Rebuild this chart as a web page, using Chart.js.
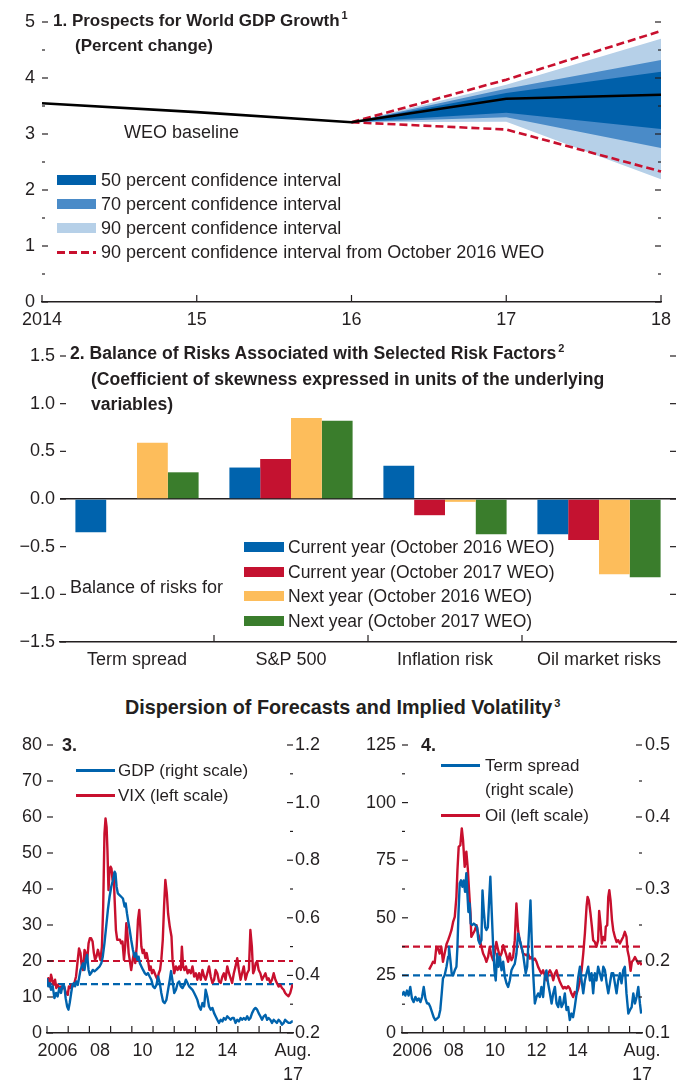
<!DOCTYPE html>
<html>
<head>
<meta charset="utf-8">
<title>Prospects for World GDP Growth and Balance of Risks</title>
<script src="https://cdn.jsdelivr.net/npm/chart.js@4.4.1/dist/chart.umd.min.js"></script>
<style>
  html, body { margin:0; padding:0; background:#fff; }
  body { position:relative; width:686px; height:1085px; overflow:hidden;
         font-family:"Liberation Sans", Arial, sans-serif; color:#231f20; }
  canvas { position:absolute; }
  .t { position:absolute; white-space:nowrap; line-height:1; transform:translateY(-50%); }
  .b { font-weight:bold; }
  .sup { font-size:11px; position:relative; top:-7px; margin-left:2px; font-weight:bold; }
  .sw { position:absolute; }
</style>
</head>
<body>
<canvas id="c1" width="686" height="340" style="left:0;top:0"></canvas>
<canvas id="c2" width="686" height="340" style="left:0;top:340px"></canvas>
<canvas id="c3" width="343" height="365" style="left:0;top:720px"></canvas>
<canvas id="c4" width="343" height="365" style="left:343px;top:720px"></canvas>

<!-- Panel 1 texts -->
<div class="t b" style="left:53px;top:20px;font-size:17px">1. Prospects for World GDP Growth<span class="sup">1</span></div>
<div class="t b" style="left:75px;top:45px;font-size:17px">(Percent change)</div>
<div class="t" style="left:124px;top:132px;font-size:18px">WEO baseline</div>
<div class="sw" style="left:57px;top:175px;width:39px;height:10px;background:#0060aa"></div>
<div class="sw" style="left:57px;top:199px;width:39px;height:10px;background:#4a8bc8"></div>
<div class="sw" style="left:57px;top:223px;width:39px;height:10px;background:#b6d0e8"></div>
<div class="sw" style="left:57px;top:251px;width:39px;height:3px;background:repeating-linear-gradient(90deg,#c8102e 0 8px,transparent 8px 12px)"></div>
<div class="t" style="left:101px;top:180px;font-size:18px">50 percent confidence interval</div>
<div class="t" style="left:101px;top:204px;font-size:18px">70 percent confidence interval</div>
<div class="t" style="left:101px;top:228px;font-size:18px">90 percent confidence interval</div>
<div class="t" style="left:101px;top:252px;font-size:18px">90 percent confidence interval from October 2016 WEO</div>

<!-- Panel 2 texts -->
<div class="t b" style="left:70px;top:354px;font-size:17.6px">2. Balance of Risks Associated with Selected Risk Factors<span class="sup">2</span></div>
<div class="t b" style="left:91px;top:380px;font-size:17.6px">(Coefficient of skewness expressed in units of the underlying</div>
<div class="t b" style="left:91px;top:405px;font-size:17.6px">variables)</div>
<div class="sw" style="left:244px;top:542px;width:40px;height:10px;background:#0063ad"></div>
<div class="sw" style="left:244px;top:567px;width:40px;height:10px;background:#c41230"></div>
<div class="sw" style="left:244px;top:591px;width:40px;height:10px;background:#fdbd5b"></div>
<div class="sw" style="left:244px;top:616px;width:40px;height:10px;background:#3a7d2c"></div>
<div class="t" style="left:288px;top:548px;font-size:17.5px">Current year (October 2016 WEO)</div>
<div class="t" style="left:288px;top:573px;font-size:17.5px">Current year (October 2017 WEO)</div>
<div class="t" style="left:288px;top:597px;font-size:17.5px">Next year (October 2016 WEO)</div>
<div class="t" style="left:288px;top:622px;font-size:17.5px">Next year (October 2017 WEO)</div>
<div class="t" style="left:70px;top:587px;font-size:18px">Balance of risks for</div>

<!-- Middle title -->
<div class="t b" style="left:125px;top:708px;font-size:19.8px">Dispersion of Forecasts and Implied Volatility<span class="sup">3</span></div>

<!-- Panel 3 texts -->
<div class="t b" style="left:62px;top:745px;font-size:18px">3.</div>
<div class="sw" style="left:76px;top:769px;width:39px;height:2.5px;background:#0063ad"></div>
<div class="sw" style="left:76px;top:794px;width:39px;height:2.5px;background:#c8102e"></div>
<div class="t" style="left:118px;top:770px;font-size:17px">GDP (right scale)</div>
<div class="t" style="left:118px;top:795px;font-size:17px">VIX (left scale)</div>

<!-- Panel 4 texts -->
<div class="t b" style="left:421px;top:745px;font-size:18px">4.</div>
<div class="sw" style="left:441px;top:764px;width:39px;height:2.5px;background:#0063ad"></div>
<div class="sw" style="left:441px;top:814px;width:39px;height:2.5px;background:#c8102e"></div>
<div class="t" style="left:485px;top:765px;font-size:17px">Term spread</div>
<div class="t" style="left:485px;top:789px;font-size:17px">(right scale)</div>
<div class="t" style="left:485px;top:815px;font-size:17px">Oil (left scale)</div>

<script>
// ---------------- DATA ----------------
// Panel 1: Prospects for World GDP Growth (percent change)
const p1Years = ['2014', '15', '16', '17', '18'];
const weoBaseline  = [3.55, 3.39, 3.21, 3.63, 3.70];
const ci50Upper    = [null, null, 3.21, 3.73, 4.11];
const ci50Lower    = [null, null, 3.21, 3.38, 3.09];
const ci70Upper    = [null, null, 3.21, 3.81, 4.32];
const ci70Lower    = [null, null, 3.21, 3.30, 2.75];
const ci90Upper    = [null, null, 3.21, 3.88, 4.70];
const ci90Lower    = [null, null, 3.21, 3.22, 2.19];
const oct2016Upper = [null, null, 3.21, 3.97, 4.84];
const oct2016Lower = [null, null, 3.21, 3.08, 2.33];

// Panel 2: Balance of risks (coefficient of skewness)
const riskFactors = ['Term spread', 'S&P 500', 'Inflation risk', 'Oil market risks'];
const currentYear2016 = [-0.35, 0.33, 0.35, -0.37];
const currentYear2017 = [null, 0.42, -0.17, -0.43];
const nextYear2016    = [0.59, 0.85, -0.03, -0.79];
const nextYear2017    = [0.28, 0.82, -0.37, -0.82];

// Panels 3 and 4: shared time axis
const yearTicks = [2006, 2007, 2008, 2009, 2010, 2011, 2012, 2013, 2014, 2015, 2016, 2017];
const timeLabels = ['2006', '08', '10', '12', '14', ['Aug.', '17']];
const timeLabelPos = [2006.5, 2008.5, 2010.5, 2012.5, 2014.5, 2017.6];
const timeStart = 2006, timeEnd = 2017.6;

// Panel 3: VIX (left scale)
const vixYears = [2006.00,2006.06,2006.13,2006.19,2006.25,2006.32,2006.38,2006.44,2006.50,2006.58,
  2006.66,2006.74,2006.82,2006.90,2006.98,2007.03,2007.09,2007.14,2007.21,2007.29,
  2007.37,2007.45,2007.51,2007.58,2007.64,2007.70,2007.77,2007.83,2007.89,2007.96,
  2008.02,2008.08,2008.15,2008.21,2008.27,2008.33,2008.40,2008.46,2008.52,2008.59,
  2008.65,2008.71,2008.76,2008.81,2008.85,2008.90,2008.95,2009.00,2009.04,2009.09,
  2009.14,2009.19,2009.25,2009.31,2009.38,2009.44,2009.50,2009.56,2009.63,2009.69,
  2009.74,2009.79,2009.85,2009.91,2009.97,2010.04,2010.10,2010.16,2010.23,2010.29,
  2010.35,2010.40,2010.45,2010.51,2010.57,2010.64,2010.70,2010.76,2010.83,2010.89,
  2010.95,2011.02,2011.08,2011.14,2011.21,2011.27,2011.33,2011.39,2011.46,2011.52,
  2011.58,2011.65,2011.71,2011.79,2011.87,
  2011.92,2012.00,2012.08,2012.16,2012.23,2012.31,2012.36,2012.42,2012.48,2012.55,
  2012.63,2012.70,2012.78,2012.86,2012.94,2013.02,2013.09,2013.17,2013.25,2013.33,
  2013.41,2013.48,2013.56,2013.64,2013.72,2013.80,2013.88,2013.95,2014.03,2014.11,
  2014.19,2014.27,2014.34,2014.42,2014.50,2014.58,2014.66,2014.73,2014.81,2014.89,
  2014.97,2015.05,2015.13,2015.20,2015.28,2015.36,2015.44,2015.52,2015.59,2015.66,
  2015.72,2015.78,2015.84,2015.91,2015.98,2016.06,2016.14,2016.22,2016.30,2016.38,
  2016.45,2016.53,2016.61,2016.69,2016.77,2016.84,2016.92,2017.00,2017.08,2017.16,
  2017.23,2017.31,2017.39,2017.47,2017.55,2017.59];
const vixValues = [13.9,15.2,12.9,16.2,14.8,13.4,14.8,12.5,13.4,12.5,
  12.9,12.5,12.5,11.1,10.6,12.9,12.5,13.4,12.9,13.9,
  15.7,20.3,23.5,22.2,18.5,17.5,23.1,22.2,19.9,24.9,
  26.3,26.3,25.4,22.2,20.3,21.2,23.1,21.7,20.3,24.0,
  35.1,55.4,59.6,57.2,50.8,39.7,45.2,46.2,45.7,42.5,
  44.3,36.9,28.6,25.9,25.9,25.9,24.9,25.4,20.3,24.5,
  30.5,27.7,22.2,19.9,17.5,20.3,22.2,19.4,24.0,31.4,
  34.2,29.5,24.0,22.2,23.1,20.8,22.2,20.3,17.5,18.5,
  16.6,17.5,16.6,15.7,14.8,16.6,17.5,20.3,25.9,35.1,
  42.5,38.8,33.2,29.5,26.8,
  20.3,16.6,18.5,17.5,18.5,17.5,24.0,18.5,17.5,18.5,
  16.6,17.5,16.6,18.5,15.7,16.6,14.8,16.6,14.8,17.5,
  15.7,14.8,16.6,18.5,15.7,13.9,14.8,17.5,16.6,14.3,
  13.9,15.7,16.6,14.8,18.5,16.6,15.2,13.9,16.6,18.5,
  20.8,17.5,14.8,16.6,18.5,14.8,16.6,17.5,28.6,24.0,
  16.6,17.5,19.4,19.9,17.5,16.6,14.8,15.7,16.6,14.8,
  15.2,13.9,14.8,16.6,14.8,13.9,12.9,13.4,12.5,12.0,
  11.1,10.6,10.2,11.1,12.9,13.5];
const vixAverage = 20;

// Panel 3: dispersion of GDP forecasts (right scale)
const gdpYears = [2006.00,2006.06,2006.13,2006.19,2006.27,2006.35,2006.43,2006.50,2006.58,2006.66,
  2006.74,2006.82,2006.88,2006.95,2007.01,2007.07,2007.14,2007.20,2007.26,2007.32,
  2007.39,2007.45,2007.51,2007.58,2007.64,2007.70,2007.77,2007.83,2007.89,2007.96,
  2008.02,2008.08,2008.16,2008.24,2008.32,2008.40,2008.48,2008.56,2008.63,2008.71,
  2008.79,2008.87,2008.95,2009.03,2009.11,2009.19,2009.23,2009.28,2009.34,2009.42,
  2009.50,2009.58,2009.66,2009.71,2009.77,2009.82,2009.90,2009.97,2010.05,2010.13,
  2010.20,2010.26,2010.32,2010.38,2010.45,2010.53,2010.61,2010.68,2010.76,2010.84,
  2010.92,2011.00,2011.08,2011.16,2011.24,2011.32,2011.39,2011.47,2011.55,2011.63,
  2011.71,2011.79,2011.85,
  2011.92,2012.00,2012.08,2012.16,2012.23,2012.31,2012.39,2012.47,2012.55,2012.63,
  2012.70,2012.78,2012.86,2012.94,2013.02,2013.09,2013.17,2013.25,2013.33,2013.41,
  2013.48,2013.56,2013.64,2013.72,2013.80,2013.88,2013.95,2014.03,2014.11,2014.19,
  2014.27,2014.34,2014.42,2014.50,2014.58,2014.66,2014.73,2014.81,2014.89,2014.97,
  2015.05,2015.13,2015.20,2015.28,2015.36,2015.44,2015.52,2015.59,2015.67,2015.75,
  2015.83,2015.91,2015.98,2016.06,2016.14,2016.22,2016.30,2016.38,2016.45,2016.53,
  2016.61,2016.69,2016.77,2016.84,2016.92,2017.00,2017.08,2017.16,2017.23,2017.31,
  2017.39,2017.47,2017.55,2017.59];
const gdpDispersion = [.390,.362,.373,.350,.362,.321,.339,.327,.356,.339,
  .367,.362,.321,.292,.281,.304,.339,.367,.373,.362,
  .379,.367,.390,.419,.431,.442,.419,.454,.471,.419,
  .402,.408,.419,.414,.419,.425,.431,.442,.465,.512,
  .569,.627,.673,.708,.731,.760,.754,.708,.685,.679,
  .673,.667,.639,.650,.616,.592,.558,.523,.489,.465,
  .477,.454,.465,.442,.431,.419,.408,.402,.408,.396,
  .385,.362,.356,.367,.396,.373,.339,.310,.304,.315,
  .350,.385,.415,
  .380,.339,.350,.373,.379,.362,.356,.367,.385,.373,
  .362,.356,.350,.339,.327,.315,.292,.281,.304,.292,
  .350,.327,.292,.281,.287,.269,.258,.246,.235,.246,
  .240,.252,.246,.258,.252,.246,.252,.252,.235,.246,
  .240,.252,.246,.252,.246,.258,.246,.252,.269,.281,
  .287,.281,.269,.258,.246,.258,.263,.246,.252,.246,
  .235,.246,.240,.235,.246,.240,.229,.235,.246,.240,
  .235,.235,.240,.240];
const gdpAverage = 0.37;

// Panel 4: term spread (right scale)
const termYears = [2006.00,2006.08,2006.16,2006.24,2006.32,2006.40,2006.48,2006.56,2006.65,2006.73,
  2006.81,2006.89,2006.97,2007.05,2007.13,2007.21,2007.29,2007.37,2007.45,2007.53,
  2007.61,2007.69,2007.77,2007.85,2007.92,2007.98,2008.06,2008.15,2008.23,2008.27,
  2008.34,2008.40,2008.47,2008.55,2008.63,2008.68,2008.73,2008.79,2008.85,2008.92,
  2008.98,2009.05,2009.11,2009.16,2009.21,2009.27,2009.32,2009.40,2009.47,2009.55,
  2009.63,2009.69,2009.76,2009.84,2009.89,2009.95,2010.02,2010.08,2010.15,2010.21,
  2010.27,2010.34,2010.40,2010.47,2010.53,2010.60,2010.66,2010.73,2010.81,2010.89,
  2010.97,2011.05,2011.13,2011.21,2011.29,2011.37,2011.45,2011.53,2011.61,2011.69,
  2011.77,2011.85,
  2011.98,2012.05,2012.15,2012.21,2012.27,2012.34,2012.42,2012.50,2012.58,2012.66,
  2012.74,2012.82,2012.90,2012.98,2013.06,2013.15,2013.23,2013.31,2013.39,2013.47,
  2013.55,2013.63,2013.71,2013.79,2013.87,2013.95,2014.03,2014.11,2014.19,2014.27,
  2014.35,2014.44,2014.52,2014.60,2014.68,2014.76,2014.84,2014.92,2015.00,2015.08,
  2015.16,2015.24,2015.32,2015.40,2015.48,2015.56,2015.65,2015.73,2015.81,2015.89,
  2015.97,2016.05,2016.13,2016.21,2016.29,2016.37,2016.45,2016.53,2016.61,2016.69,
  2016.77,2016.85,2016.94,2017.02,2017.10,2017.18,2017.26,2017.34,2017.42,2017.50,
  2017.56];
const termSpread = [.152,.157,.152,.159,.152,.164,.148,.143,.150,.145,
  .148,.143,.150,.164,.148,.141,.141,.136,.129,.122,
  .118,.120,.122,.132,.155,.176,.180,.192,.206,.220,
  .201,.183,.180,.187,.192,.220,.266,.308,.312,.303,
  .312,.296,.322,.294,.268,.280,.252,.250,.252,.250,
  .247,.229,.224,.229,.298,.271,.247,.243,.247,.284,
  .317,.266,.224,.187,.173,.210,.192,.206,.187,.199,
  .178,.169,.164,.173,.187,.192,.196,.210,.238,.229,
  .220,.210,
  .183,.192,.247,.284,.229,.183,.141,.150,.155,.150,
  .164,.150,.178,.187,.169,.155,.141,.155,.164,.141,
  .136,.150,.136,.141,.155,.132,.136,.118,.127,.122,
  .136,.155,.178,.192,.173,.155,.173,.183,.192,.173,
  .183,.155,.183,.173,.192,.183,.173,.192,.187,.169,
  .155,.169,.183,.183,.169,.155,.173,.183,.169,.187,
  .192,.155,.127,.132,.136,.155,.141,.150,.164,.141,
  .127];
const termAverage = 0.18;

// Panel 4: oil (left scale)
const oilYears = [2007.31,2007.42,2007.50,2007.58,2007.66,2007.74,2007.82,2007.90,2007.98,
  2008.06,2008.15,2008.23,2008.31,2008.39,2008.47,2008.55,2008.63,2008.68,2008.74,
  2008.82,2008.89,2008.95,2009.03,2009.11,2009.18,2009.24,2009.31,2009.35,2009.44,
  2009.52,2009.60,2009.68,2009.76,2009.84,2009.92,2010.00,2010.08,2010.16,2010.24,
  2010.32,2010.40,2010.48,2010.56,2010.65,2010.73,2010.81,2010.89,2011.02,2011.13,
  2011.21,2011.29,2011.37,2011.45,2011.53,2011.61,2011.69,2011.77,2011.85,
  2012.02,2012.10,2012.18,2012.26,2012.34,2012.42,2012.50,2012.58,2012.66,2012.74,
  2012.82,2012.90,2012.98,2013.06,2013.15,2013.23,2013.31,2013.39,2013.47,2013.55,
  2013.63,2013.71,2013.79,2013.87,2013.95,2014.03,2014.11,2014.19,2014.27,2014.35,
  2014.44,2014.52,2014.60,2014.68,2014.76,2014.84,2014.92,2014.97,2015.03,2015.11,
  2015.18,2015.24,2015.32,2015.40,2015.48,2015.53,2015.60,2015.66,2015.73,2015.81,
  2015.85,2015.92,2015.97,2016.02,2016.08,2016.15,2016.21,2016.29,2016.37,2016.45,
  2016.53,2016.61,2016.69,2016.77,2016.85,2016.90,2016.97,2017.05,2017.11,2017.18,
  2017.26,2017.34,2017.42,2017.50,2017.58];
const oilValues = [27.5,29.4,30.9,30.4,37.4,36.6,34.5,37.4,30.9,
  34.5,38.5,40.3,42.4,44.6,48.2,50.4,59.1,70.7,80.8,
  81.5,88.8,83.7,72.1,78.7,71.4,62.0,51.9,41.7,43.2,
  44.6,46.8,43.2,40.3,37.4,34.5,33.0,30.9,33.0,37.4,
  33.7,31.6,34.5,39.5,35.9,33.0,34.5,38.1,34.5,30.9,
  34.5,31.6,33.0,40.3,56.2,44.6,40.3,37.4,34.5,
  33.7,34.5,32.3,33.0,31.6,32.3,30.9,28.7,27.2,25.8,
  27.2,25.1,22.9,25.8,27.2,25.8,22.9,25.8,27.2,24.3,
  22.2,20.7,19.3,20.0,19.3,20.3,19.3,17.1,15.6,17.8,
  17.1,19.3,22.9,27.2,34.5,43.2,54.8,59.1,57.6,51.9,
  46.1,40.3,39.5,37.4,40.3,53.0,46.8,38.8,41.7,40.3,
  46.1,46.8,59.1,62.0,57.6,49.0,44.6,41.7,39.5,40.3,
  38.8,40.3,41.7,43.9,41.7,35.9,33.0,27.0,30.9,31.6,
  33.0,31.6,30.1,30.9,29.4];
const oilAverage = 37.5;

// ---------------- STYLE ----------------
const INK = '#231f20';
const BLUE = '#0063ad', RED = '#c8102e', BAR_RED = '#c41230', YELLOW = '#fdbd5b', GREEN = '#3a7d2c';
const C50 = '#0060aa', C70 = '#4a8bc8', C90 = '#b6d0e8';
const NONE = 'rgba(0,0,0,0)';

Chart.defaults.font.family = '"Liberation Sans", Arial, sans-serif';
Chart.defaults.font.size = 18;
Chart.defaults.color = INK;
Chart.defaults.animation = false;
Chart.defaults.plugins.legend.display = false;
Chart.defaults.plugins.tooltip.enabled = false;

function isMultiple(v, step) { const q = v / step; return Math.abs(q - Math.round(q)) < 1e-6; }
function zip(xs, ys) { const n = Math.min(xs.length, ys.length); const out = []; for (let i = 0; i < n; i++) out.push({x: xs[i], y: ys[i]}); return out; }
function minus(v) { return (v < -1e-9 ? '\u2212' : '') + Math.abs(v).toFixed(1); }

// inward tick marks drawn from the chart's own scales
function tickMarks(spec) {
  return {
    id: 'tickMarks',
    afterDatasetsDraw(chart) {
      const ctx = chart.ctx, a = chart.chartArea;
      ctx.save();
      ctx.strokeStyle = INK;
      ctx.lineWidth = 1.2;
      const seg = (x1, y1, x2, y2) => { ctx.beginPath(); ctx.moveTo(x1, y1); ctx.lineTo(x2, y2); ctx.stroke(); };
      spec.y.forEach(s => {
        const sc = chart.scales[s.id];
        sc.ticks.forEach(t => {
          const len = isMultiple(t.value, s.major) ? 6 : 3;
          const y = sc.getPixelForValue(t.value);
          if (s.left) seg(a.left, y, a.left + len, y);
          if (s.right) seg(a.right - len, y, a.right, y);
        });
      });
      const xs = chart.scales[spec.x.id];
      spec.x.pixels(xs).forEach(px => seg(px, a.bottom, px, a.bottom - 7));
      ctx.restore();
    }
  };
}

const noGrid = {display: false, drawTicks: false};
const axisLine = {display: true, color: INK, width: 1.5};
const noBorder = {display: false};

// ---------------- PANEL 1 ----------------
function band(data, color, fill) {
  return {data, borderColor: NONE, borderWidth: 0, pointRadius: 0, backgroundColor: color, fill};
}
new Chart(document.getElementById('c1'), {
  type: 'line',
  data: {
    labels: p1Years,
    datasets: [
      {data: weoBaseline, borderColor: '#000', borderWidth: 2.6, pointRadius: 0, fill: false},
      {data: oct2016Upper, borderColor: RED, borderWidth: 2.6, borderDash: [8, 4], pointRadius: 0, fill: false},
      {data: oct2016Lower, borderColor: RED, borderWidth: 2.6, borderDash: [8, 4], pointRadius: 0, fill: false},
      band(ci50Upper, C50, '+1'), band(ci50Lower, NONE, false),
      band(ci70Upper, C70, '+1'), band(ci70Lower, NONE, false),
      band(ci90Upper, C90, '+1'), band(ci90Lower, NONE, false)
    ]
  },
  options: {
    responsive: false,
    layout: {padding: {top: 22, right: 25, left: 0, bottom: 0}},
    scales: {
      x: {grid: noGrid, border: axisLine,
          ticks: {padding: 7, maxRotation: 0, autoSkip: false},
          afterFit: s => { s.height = 38; }},
      y: {min: 0, max: 5, grid: noGrid, border: noBorder,
          ticks: {stepSize: 0.5, padding: 7, callback: v => isMultiple(v, 1) ? String(v) : ''},
          afterFit: s => { s.width = 42; }}
    }
  },
  plugins: [tickMarks({
    y: [{id: 'y', major: 1, left: true, right: true}],
    x: {id: 'x', pixels: sc => p1Years.map((_, i) => sc.getPixelForValue(i))}
  })]
});

// ---------------- PANEL 2 ----------------
new Chart(document.getElementById('c2'), {
  type: 'bar',
  data: {
    labels: riskFactors,
    datasets: [
      {data: currentYear2016, backgroundColor: BLUE},
      {data: currentYear2017, backgroundColor: BAR_RED},
      {data: nextYear2016, backgroundColor: YELLOW},
      {data: nextYear2017, backgroundColor: GREEN}
    ]
  },
  options: {
    responsive: false,
    datasets: {bar: {categoryPercentage: 0.8, barPercentage: 1.0, borderWidth: 0}},
    layout: {padding: {top: 16, right: 10, left: 0, bottom: 0}},
    scales: {
      x: {grid: noGrid, border: axisLine,
          ticks: {padding: 7, maxRotation: 0, autoSkip: false},
          afterFit: s => { s.height = 38; }},
      y: {min: -1.5, max: 1.5,
          grid: {display: true, drawTicks: false, lineWidth: 1.5,
                 color: c => (c.tick && Math.abs(c.tick.value) < 1e-9) ? INK : NONE},
          border: noBorder,
          ticks: {stepSize: 0.25, padding: 5, callback: v => isMultiple(v, 0.5) ? minus(v) : ''},
          afterFit: s => { s.width = 60; }}
    }
  },
  plugins: [tickMarks({
    y: [{id: 'y', major: 0.5, left: true, right: true}],
    x: {id: 'x', pixels: sc => riskFactors.slice(1).map((_, i) => (sc.getPixelForValue(i) + sc.getPixelForValue(i + 1)) / 2)}
  })]
});

// ---------------- PANELS 3 & 4 ----------------
function timeAxis(height) {
  return {
    type: 'linear', min: timeStart, max: timeEnd,
    grid: noGrid, border: axisLine,
    afterBuildTicks: s => { s.ticks = timeLabelPos.map(v => ({value: v})); },
    ticks: {padding: 7, maxRotation: 0, autoSkip: false, font: {size: 18, lineHeight: 1.28},
            callback: (v, i) => timeLabels[i]},
    afterFit: s => { s.height = height; }
  };
}
function seriesLine(data, color, axis) {
  return {data, yAxisID: axis, borderColor: color, borderWidth: 2.4, pointRadius: 0, tension: 0,
          borderJoinStyle: 'round', fill: false};
}
function avgLine(value, color, axis) {
  return {data: [{x: timeStart, y: value}, {x: timeEnd, y: value}], yAxisID: axis, borderColor: color,
          borderWidth: 2.2, borderDash: [7, 4], pointRadius: 0, fill: false};
}

new Chart(document.getElementById('c3'), {
  type: 'line',
  data: {datasets: [
    seriesLine(zip(gdpYears, gdpDispersion), BLUE, 'y2'),
    seriesLine(zip(vixYears, vixValues), RED, 'y'),
    avgLine(vixAverage, RED, 'y'),
    avgLine(gdpAverage, BLUE, 'y2')
  ]},
  options: {
    responsive: false,
    layout: {padding: {top: 25, left: 0, right: 0, bottom: 0}},
    scales: {
      x: timeAxis(52),
      y: {position: 'left', min: 0, max: 80, grid: noGrid, border: noBorder,
          ticks: {stepSize: 5, padding: 5, callback: v => isMultiple(v, 10) ? String(v) : ''},
          afterFit: s => { s.width = 47; }},
      y2: {position: 'right', min: 0.2, max: 1.2, grid: noGrid, border: noBorder,
           ticks: {stepSize: 0.1, padding: 2, callback: v => isMultiple(v, 0.2) ? v.toFixed(1) : ''},
           afterFit: s => { s.width = 50; }}
    }
  },
  plugins: [tickMarks({
    y: [{id: 'y', major: 10, left: true}, {id: 'y2', major: 0.2, right: true}],
    x: {id: 'x', pixels: sc => yearTicks.map(v => sc.getPixelForValue(v))}
  })]
});

new Chart(document.getElementById('c4'), {
  type: 'line',
  data: {datasets: [
    seriesLine(zip(termYears, termSpread), BLUE, 'y2'),
    seriesLine(zip(oilYears, oilValues), RED, 'y'),
    avgLine(oilAverage, RED, 'y'),
    avgLine(termAverage, BLUE, 'y2')
  ]},
  options: {
    responsive: false,
    layout: {padding: {top: 25, left: 0, right: 0, bottom: 0}},
    scales: {
      x: timeAxis(52),
      y: {position: 'left', min: 0, max: 125, grid: noGrid, border: noBorder,
          ticks: {stepSize: 12.5, padding: 6, callback: v => isMultiple(v, 25) ? String(v) : ''},
          afterFit: s => { s.width = 59; }},
      y2: {position: 'right', min: 0.1, max: 0.5, grid: noGrid, border: noBorder,
           ticks: {stepSize: 0.05, padding: 3, callback: v => isMultiple(v, 0.1) ? v.toFixed(1) : ''},
           afterFit: s => { s.width = 44; }}
    }
  },
  plugins: [tickMarks({
    y: [{id: 'y', major: 25, left: true}, {id: 'y2', major: 0.1, right: true}],
    x: {id: 'x', pixels: sc => yearTicks.map(v => sc.getPixelForValue(v))}
  })]
});
</script>
</body>
</html>
